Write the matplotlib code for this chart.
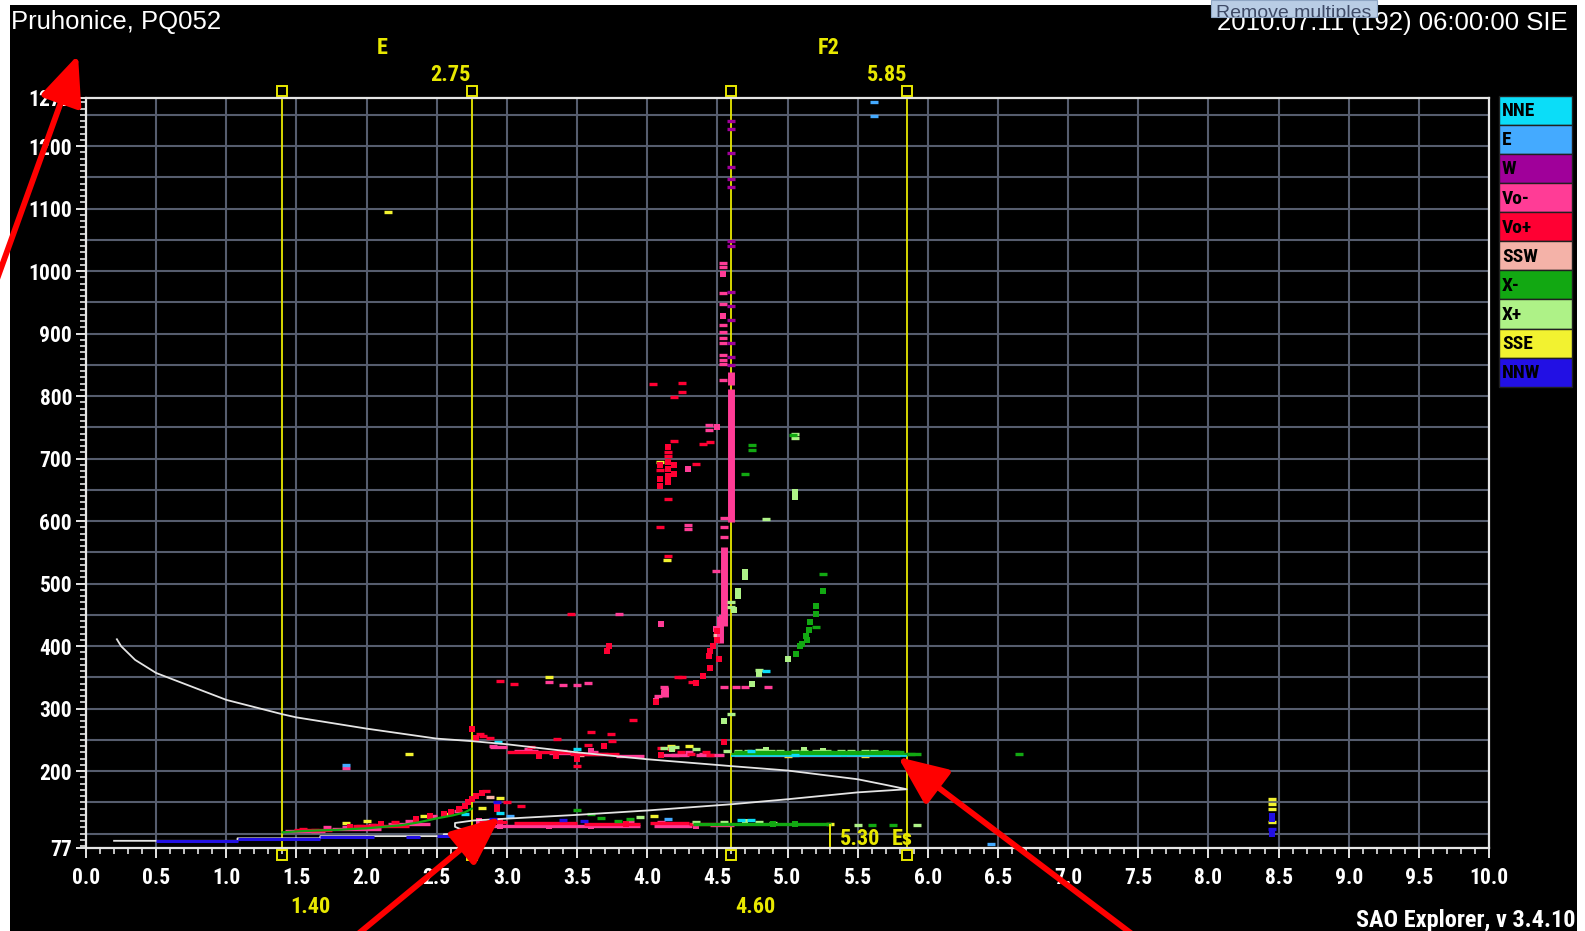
import matplotlib
matplotlib.use("Agg")
import matplotlib.pyplot as plt
from matplotlib import font_manager
from matplotlib.patches import Rectangle, FancyArrowPatch
from matplotlib.ticker import FixedLocator, MultipleLocator

# ---------------- data ----------------
X_TICKS = [0.0, 0.5, 1.0, 1.5, 2.0, 2.5, 3.0, 3.5, 4.0, 4.5, 5.0, 5.5, 6.0, 6.5, 7.0, 7.5, 8.0, 8.5, 9.0, 9.5, 10.0]
Y_TICKS = [77, 200, 300, 400, 500, 600, 700, 800, 900, 1000, 1100, 1200, 1277]

LEGEND_NAMES = ["NNE", "E", "W", "Vo-", "Vo+", "SSW", "X-", "X+", "SSE", "NNW"]
LEGEND_COLORS = ["#0BDDF8", "#44AAFF", "#A0009A", "#FF3C96", "#FF0033",
                 "#F4B2A8", "#12A812", "#AEF287", "#F2F230", "#2210E4"]

MARK_FREQS = [1.40, 2.75, 4.60, 5.85]
ES_FREQ = 5.30

PROFILE_F = [0.20, 1.08, 1.08, 1.67, 1.67, 2.55, 2.55, 2.74, 2.76, 2.66, 2.63, 2.63, 2.76, 3.0,
             3.5, 4.0, 4.6, 5.0, 5.5, 5.85, 5.7, 5.5, 5.0, 4.6, 4.0, 3.5, 3.0, 2.75, 2.5, 2.0,
             1.5, 1.4, 1.0, 0.5, 0.35, 0.25, 0.22]
PROFILE_H = [88.5, 88.5, 92.5, 92.5, 96, 96, 99, 100, 103, 108, 111, 117, 121, 124,
             130, 137, 147, 155, 166, 171, 178, 187, 201, 208, 219, 230, 243, 248, 252, 268,
             286, 291, 314, 357, 378, 400, 411]

ETRACE_F = [1.40, 1.50, 1.64, 1.79, 1.91, 2.00, 2.13, 2.25, 2.37, 2.49, 2.61, 2.70, 2.75]
ETRACE_H = [102, 103.5, 105, 106, 107.5, 108.5, 111, 113.5, 118, 124, 129, 134, 140]

NNE_DASH = [(2.94, 246), (3.50, 235), (4.74, 232), (4.67, 122), (4.74, 122), (2.95, 133),
            (4.85, 360), (5.05, 226), (2.70, 131)]
NNE_RUN = [(4.60, 5.85, 223.5)]

E_DASH = [(5.62, 1270), (5.62, 1248), (1.85, 210), (6.45, 83), (3.02, 128), (4.15, 124)]

W_DASH = [(4.60, 1240), (4.60, 1227), (4.60, 1189), (4.60, 1167), (4.60, 1147), (4.60, 1135),
          (4.60, 1048), (4.60, 1040), (4.60, 967), (4.60, 944), (4.60, 922), (4.60, 885),
          (4.60, 862), (4.60, 850)]

VOM_DASH = [(4.54, 1013), (4.54, 1007), (4.54, 965), (4.54, 947), (4.54, 914), (4.54, 902),
            (4.54, 893), (4.54, 885), (4.54, 866), (4.54, 858), (4.54, 851), (4.54, 826),
            (4.44, 754), (4.44, 746), (4.29, 594), (4.29, 587), (4.55, 605), (4.55, 590),
            (4.55, 574), (4.49, 520), (4.08, 320), (4.12, 334), (3.30, 343), (3.40, 338),
            (3.50, 338), (3.58, 341), (4.63, 335), (4.70, 335), (4.86, 335), (4.545, 335),
            (3.80, 452), (2.90, 240), (3.15, 236), (3.40, 233), (3.62, 230), (4.20, 226),
            (4.30, 230), (1.85, 205), (1.72, 110), (1.85, 111), (2.04, 114), (2.3, 121),
            (2.47, 129), (2.65, 137), (3.88, 118), (4.10, 118), (4.40, 227)]
VOM_BLOCK = [(4.54, 995), (4.54, 928), (4.29, 684), (4.50, 751), (4.10, 435), (4.06, 312),
             (4.49, 428), (4.53, 445), (3.60, 232), (2.95, 112), (3.30, 113), (3.60, 112),
             (4.35, 113), (2.80, 120)]
VOM_RUN = [(2.88, 3.00, 238), (3.05, 3.22, 233), (3.30, 3.46, 229), (3.55, 3.72, 228),
           (3.78, 3.98, 225), (4.10, 4.30, 225.5), (4.35, 4.55, 226.5),
           (2.78, 3.95, 112.5), (4.05, 4.32, 113), (4.45, 4.62, 113.5),
           (1.42, 1.70, 104.5), (1.75, 2.10, 108), (2.15, 2.45, 116), (4.62, 5.80, 225.5)]
VOM_BAR = [(4.595, 598, 812), (4.55, 432, 558), (4.52, 405, 448), (4.60, 818, 838),
           (4.13, 318, 335), (4.12, 322, 332)]

VOP_DASH = [(2.81, 260), (2.83, 257), (3.17, 238), (3.74, 259), (3.60, 263), (3.36, 252),
            (3.90, 282), (4.10, 237), (4.17, 236), (4.24, 231), (4.31, 227), (4.42, 230),
            (4.45, 226), (4.15, 711), (4.15, 704), (4.09, 682), (4.15, 636), (4.19, 728),
            (4.40, 723), (4.45, 726), (4.35, 692), (4.25, 821), (4.25, 806), (4.19, 798),
            (4.04, 819), (4.22, 350), (4.25, 350), (4.32, 343), (4.09, 591), (3.46, 451),
            (4.15, 545), (3.00, 150), (3.10, 145), (2.85, 168), (3.50, 209), (3.75, 249),
            (3.58, 242), (2.05, 114), (1.95, 112), (1.63, 106), (1.55, 107), (2.2, 118),
            (3.05, 340), (2.95, 345), (2.88, 253)]
VOP_BLOCK = [(2.75, 268), (2.78, 253), (3.50, 219), (3.69, 241), (4.10, 226), (4.55, 247),
             (4.15, 719), (4.09, 690), (4.19, 690), (4.19, 676), (4.15, 695), (4.15, 684),
             (4.15, 673), (4.15, 662), (4.09, 656), (4.09, 668), (4.50, 425), (4.50, 410),
             (4.47, 400), (4.45, 392), (4.44, 385), (4.51, 380), (4.45, 365), (4.40, 352),
             (4.35, 341), (4.06, 311), (3.73, 400), (3.71, 393), (2.93, 146), (2.93, 140),
             (2.75, 155), (2.78, 160), (2.82, 165), (2.70, 145), (2.72, 150), (2.60, 134),
             (2.66, 140), (2.55, 131), (2.45, 128), (2.35, 124), (2.10, 115), (1.88, 110),
             (2.95, 120), (3.40, 119), (3.85, 116), (3.23, 225), (3.35, 224)]
VOP_RUN = [(2.80, 3.00, 118), (3.05, 3.50, 117), (3.55, 3.95, 116), (4.02, 4.30, 116.5),
           (4.30, 4.58, 116), (3.00, 3.45, 231), (3.45, 3.80, 228), (1.48, 1.75, 106.5),
           (1.90, 2.30, 112)]

SSW_DASH = [(4.50, 418), (2.88, 158), (3.52, 226)]

XM_DASH = [(5.25, 515), (4.75, 722), (4.75, 714), (4.70, 676), (5.04, 738), (6.65, 227),
           (5.20, 431), (3.50, 138), (3.60, 131), (3.67, 125), (3.79, 121), (3.88, 123),
           (5.60, 113.5), (5.75, 113.5), (5.10, 229), (5.30, 230), (5.50, 229), (5.65, 231),
           (5.75, 231), (5.80, 230), (5.88, 228)]
XM_BLOCK = [(5.25, 489), (5.20, 465), (5.20, 452), (5.15, 426), (5.14, 410), (5.09, 400),
            (5.06, 388), (5.10, 404), (5.13, 416), (5.16, 438), (5.70, 229), (5.40, 228),
            (4.90, 116), (5.05, 116)]
XM_RUN = [(4.60, 5.95, 228), (4.33, 5.31, 115.5), (4.62, 5.80, 230.5)]

XP_DASH = [(4.60, 463), (4.60, 470), (5.05, 740), (5.05, 733), (4.85, 604), (4.80, 362),
           (4.60, 292), (4.12, 237), (4.20, 238), (4.35, 236), (4.57, 232), (4.65, 233),
           (4.72, 233), (4.80, 234), (4.88, 232), (4.95, 233), (5.05, 232), (5.12, 233),
           (5.20, 232), (5.28, 233), (5.38, 232), (5.45, 233), (5.55, 232), (5.62, 233),
           (4.35, 118), (4.55, 119), (4.80, 118), (4.90, 117), (5.50, 113.5), (5.92, 113.5),
           (3.95, 126)]
XP_BLOCK = [(4.70, 519), (4.70, 510), (4.65, 489), (4.65, 480), (5.05, 647), (5.05, 638),
            (4.55, 280), (5.00, 380), (4.75, 340), (4.80, 355), (4.62, 458), (4.18, 236),
            (4.85, 234), (5.12, 234), (5.25, 233), (4.70, 118)]

SSE_DASH = [(2.15, 1095), (2.30, 227), (4.09, 695), (4.14, 538), (2.41, 127.5), (2.56, 131),
            (1.85, 117), (2.00, 119.6), (2.82, 141), (1.63, 104), (8.45, 156), (8.45, 148),
            (8.45, 140), (8.45, 119), (5.00, 225), (5.55, 225), (4.17, 240), (4.30, 240),
            (3.30, 350), (2.95, 157), (4.05, 128), (5.30, 116)]

NNW_DASH = [(8.45, 107), (2.93, 150), (3.40, 122), (3.55, 120), (2.90, 124)]
NNW_BLOCK = [(8.45, 128), (8.45, 124), (8.45, 100)]
NNW_RUN = [(0.50, 1.08, 87.5), (1.08, 1.67, 91), (1.67, 2.05, 94), (2.28, 2.38, 94.5),
           (2.50, 2.60, 97)]

ECHOES = {
    "NNE": dict(dash=NNE_DASH, block=[], run=NNE_RUN, bar=[]),
    "E": dict(dash=E_DASH, block=[], run=[], bar=[]),
    "W": dict(dash=W_DASH, block=[], run=[], bar=[]),
    "Vo-": dict(dash=VOM_DASH, block=VOM_BLOCK, run=VOM_RUN, bar=VOM_BAR),
    "Vo+": dict(dash=VOP_DASH, block=VOP_BLOCK, run=VOP_RUN, bar=[]),
    "SSW": dict(dash=SSW_DASH, block=[], run=[], bar=[]),
    "X-": dict(dash=XM_DASH, block=XM_BLOCK, run=XM_RUN, bar=[]),
    "X+": dict(dash=XP_DASH, block=XP_BLOCK, run=[], bar=[]),
    "SSE": dict(dash=SSE_DASH, block=[], run=[], bar=[]),
    "NNW": dict(dash=NNW_DASH, block=NNW_BLOCK, run=NNW_RUN, bar=[]),
}
DRAW_ORDER = ["SSE", "SSW", "Vo-", "Vo+", "X+", "X-", "NNE", "E", "W"]


# ---------------- fonts ----------------
def first_font(cands, default):
    for c in cands:
        try:
            font_manager.findfont(font_manager.FontProperties(family=c), fallback_to_default=False)
            return c
        except Exception:
            pass
    return default


NARROW_FAM = first_font(["Liberation Sans Narrow", "Roboto Condensed", "Open Sans Condensed",
                         "DejaVu Sans Condensed"], None)
if NARROW_FAM is None:
    NARROW = ["Liberation Sans", "DejaVu Sans"]
    NSCALE = 0.87
else:
    NARROW = [NARROW_FAM, "DejaVu Sans"]
    NSCALE = 1.0
REG = ["Liberation Sans", "DejaVu Sans"]

# ---------------- figure ----------------
W, H = 1585, 931
DPI = 100
fig = plt.figure(figsize=(W / DPI, H / DPI), dpi=DPI, facecolor="white")
px = fig.dpi_scale_trans


def P(x, y):
    return (x / DPI, (H - y) / DPI)


def ftext(x, y, s, **kw):
    return fig.text(x / W, 1 - y / H, s, **kw)


bg = Rectangle(P(10, 931), 1567 / DPI, 926 / DPI, transform=px,
               facecolor="black", edgecolor="none", zorder=-10)
fig.patches.append(bg)

L, R, T, B = 86, 1489, 98, 848
ax = fig.add_axes([L / W, 1 - B / H, (R - L) / W, (B - T) / H], zorder=2)
ax.set_facecolor("black")
ax.set_xlim(0, 10)
ax.set_ylim(77, 1277)

GRID = "#565D6E"
for xv in X_TICKS[1:-1]:
    ax.axvline(xv, color=GRID, lw=1.5, zorder=1)
for yv in range(100, 1277, 50):
    ax.axhline(yv, color=GRID, lw=1.5, zorder=1)

for s in ax.spines.values():
    s.set_color("#E6E6E6")
    s.set_linewidth(1.6)
    s.set_zorder(6)

ax.xaxis.set_major_locator(FixedLocator(X_TICKS))
ax.xaxis.set_minor_locator(MultipleLocator(0.1))
ax.yaxis.set_major_locator(FixedLocator(Y_TICKS))
ax.yaxis.set_minor_locator(FixedLocator(list(range(80, 1277, 10))))
ax.set_xticklabels([f"{v:.1f}" for v in X_TICKS])
ax.set_yticklabels([str(v) for v in Y_TICKS])
ax.tick_params(axis="both", which="major", colors="#E6E6E6", length=7, width=1.4,
               labelcolor="white", direction="out")
ax.tick_params(axis="both", which="minor", colors="#E6E6E6", length=4, width=1.2,
               direction="out")
ax.tick_params(axis="x", pad=7)
ax.tick_params(axis="y", pad=3)
for lab in ax.get_xticklabels() + ax.get_yticklabels():
    lab.set_fontfamily(NARROW)
    lab.set_fontweight("bold")
    lab.set_fontsize(15.5 * NSCALE)

# scaled marker lines (under echoes)
YEL = "#E8E800"
for fm in MARK_FREQS:
    ax.plot([fm, fm], [0, 1], transform=ax.get_xaxis_transform(), color=YEL, lw=1.3,
            zorder=1.5, clip_on=False)
    ax.plot([fm, fm], [1.0095, -0.0095], transform=ax.get_xaxis_transform(), ls="none",
            marker="s", ms=7.2, mfc="none", mec=YEL, mew=1.4, clip_on=False, zorder=5)

for name in DRAW_ORDER:
    c = LEGEND_COLORS[LEGEND_NAMES.index(name)]
    d = ECHOES[name]
    lw_run = 1.2 if name == "NNE" else 2.4
    for (f0, f1, h) in d["run"]:
        ax.hlines(h, f0, f1, colors=c, lw=lw_run, zorder=2)
    for (f, h0, h1) in d["bar"]:
        ax.vlines(f, h0, h1, colors=c, lw=5.0, zorder=2)
    if d["dash"]:
        xs, ys = zip(*d["dash"])
        ax.plot(xs, ys, ls="none", marker="_", ms=5.5, mew=2.4, color=c, zorder=2)
    if d["block"]:
        xs, ys = zip(*d["block"])
        ax.plot(xs, ys, ls="none", marker="s", ms=4.4, mew=0, color=c, zorder=2)

ax.plot(ETRACE_F, ETRACE_H, color=LEGEND_COLORS[6], lw=1.6, zorder=2)
ax.plot(PROFILE_F, PROFILE_H, color="#E4E4E4", lw=1.3, zorder=4)

# NNW traces drawn over the profile
cn = LEGEND_COLORS[LEGEND_NAMES.index("NNW")]
for (f0, f1, h) in NNW_RUN:
    ax.hlines(h, f0, f1, colors=cn, lw=2.2, zorder=4.5)
xs, ys = zip(*NNW_DASH)
ax.plot(xs, ys, ls="none", marker="_", ms=5.5, mew=2.4, color=cn, zorder=4.5)
xs, ys = zip(*NNW_BLOCK)
ax.plot(xs, ys, ls="none", marker="s", ms=5, mew=0, color=cn, zorder=4.5)

ax.plot([ES_FREQ, ES_FREQ], [77, 114], color=YEL, lw=1.4, zorder=5)
ax.text(5.375, 91, "5.30", color=YEL, fontsize=16 * NSCALE, fontweight="bold", family=NARROW,
        ha="left", va="center", zorder=5)
ax.text(5.74, 91, "Es", color=YEL, fontsize=16 * NSCALE, fontweight="bold", family=NARROW,
        ha="left", va="center", zorder=5)

ykw = dict(color=YEL, fontsize=16 * NSCALE, fontweight="bold", family=NARROW, va="center")
ftext(382, 48, "E", ha="center", **ykw)
ftext(829, 48, "F2", ha="center", **ykw)
ftext(471, 75, "2.75", ha="right", **ykw)
ftext(907, 75, "5.85", ha="right", **ykw)
ftext(290, 907, "1.40", ha="left", **ykw)
ftext(735, 907, "4.60", ha="left", **ykw)

ftext(11, 22, "Pruhonice, PQ052", color="white", fontsize=18.5, family=REG,
      ha="left", va="center")
ftext(1568, 23, "2010.07.11 (192) 06:00:00 SIE", color="white", fontsize=18.5, family=REG,
      ha="right", va="center")
btn = Rectangle(P(1211, 17), 166 / DPI, 17 / DPI, transform=px, facecolor="#B9CDE5",
                edgecolor="#8FA6C4", lw=0.8, zorder=10)
fig.patches.append(btn)
bt = ftext(1216, 13, "Remove multiples", color="#3E4A66", fontsize=14,
           family=REG, ha="left", va="center", zorder=11)
bt.set_clip_path(btn)

ftext(1575, 920, "SAO Explorer, v 3.4.10", color="white", fontsize=17.5 * NSCALE,
      fontweight="bold", family=NARROW, ha="right", va="center")

top0, bh = 95.7, 29.1
for i, (nm, col) in enumerate(zip(LEGEND_NAMES, LEGEND_COLORS)):
    y0 = top0 + i * bh
    fig.patches.append(Rectangle(P(1499, y0 + bh), 73 / DPI, bh / DPI, transform=px,
                                 facecolor=col, edgecolor="#202020", lw=1.0, zorder=3))
    ftext(1502, y0 + bh / 2 + 1, nm, color="black", fontsize=14 * NSCALE, fontweight="bold",
          family=NARROW, ha="left", va="center", zorder=4)

ARROWS = [((-4, 282), (78, 55)), ((358, 934), (500, 817)), ((1132, 934), (898, 757))]
for (t, h) in ARROWS:
    a = FancyArrowPatch(P(*t), P(*h), transform=px,
                        arrowstyle="-|>,head_length=30,head_width=13",
                        mutation_scale=1, color="#FF0000", lw=4.2, shrinkA=0, shrinkB=0,
                        zorder=20, clip_on=False)
    fig.patches.append(a)

fig.savefig("out.png", dpi=DPI, facecolor="white")
